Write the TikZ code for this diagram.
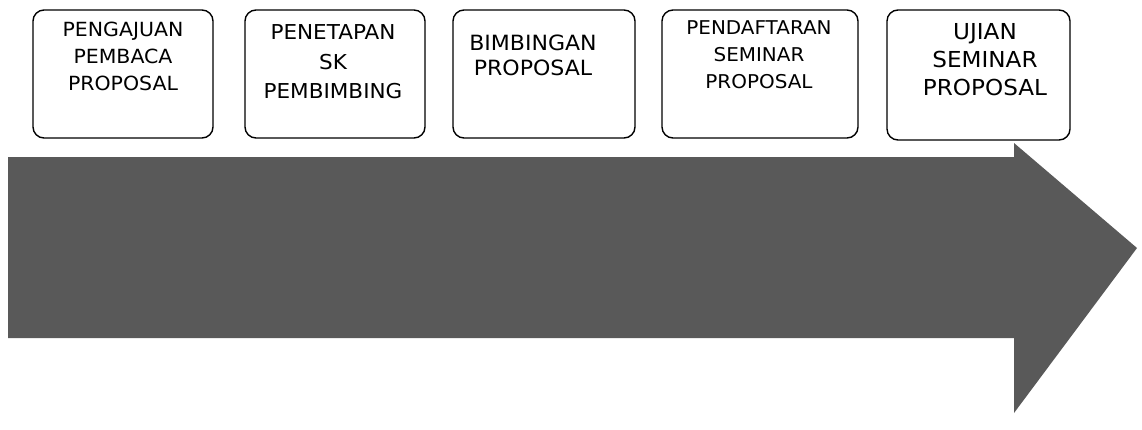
\documentclass[tikz,border=0pt]{standalone}
\usepackage{fontspec}
\setmainfont[FakeStretch=1.05]{DejaVu Sans}
\definecolor{arrowgray}{RGB}{89,89,89}
\tikzset{
  stepbox/.style={draw=black, line width=1.4pt, rounded corners=11pt, fill=white},
  steptext/.style={align=center, inner sep=0pt, text=black},
}
\begin{document}
\begin{tikzpicture}[x=1pt,y=-1pt]
\useasboundingbox (0,0) rectangle (1142,429);
% big arrow
\fill[arrowgray] (8,157) -- (1014,157) -- (1014,143) -- (1137,248) -- (1014,413) -- (1014,338) -- (8,338) -- cycle;
% boxes
\draw[stepbox] (33,10) rectangle (213,138);
\draw[stepbox] (245,10) rectangle (425,138);
\draw[stepbox] (453,10) rectangle (635,138);
\draw[stepbox] (662,10) rectangle (858,138);
\draw[stepbox] (887,10) rectangle (1070,140);
% texts
\node[steptext, font=\fontsize{19.5}{27}\selectfont] (t1) at (123,56) {PENGAJUAN\\PEMBACA\\PROPOSAL};
\node[steptext, font=\fontsize{20.5}{29.5}\selectfont] (t2) at (333,62) {PENETAPAN\\SK\\PEMBIMBING};
\node[steptext, font=\fontsize{21}{25}\selectfont] (t3) at (533,55) {BIMBINGAN\\PROPOSAL};
\node[steptext, font=\fontsize{19}{27}\selectfont] (t4) at (759,55) {PENDAFTARAN\\SEMINAR\\PROPOSAL};
\node[steptext, font=\fontsize{22}{28}\selectfont] (t5) at (985,60) {UJIAN\\SEMINAR\\PROPOSAL};
\end{tikzpicture}
\end{document}
